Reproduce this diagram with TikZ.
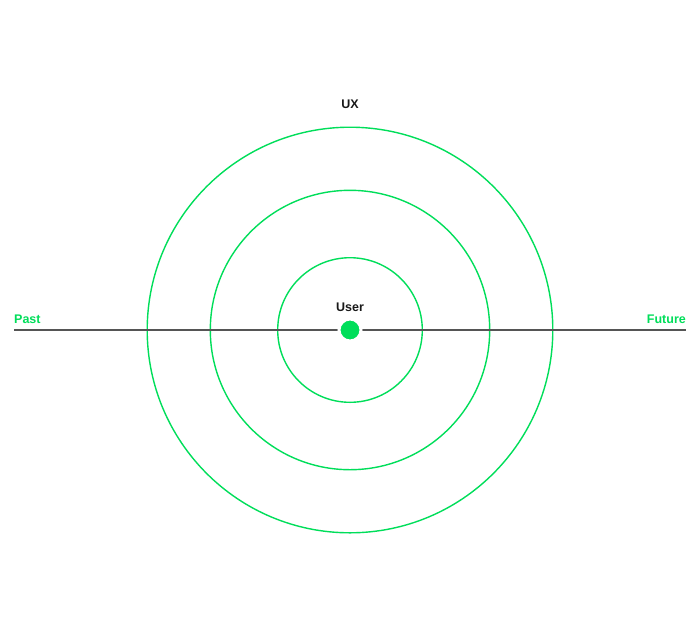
\documentclass[tikz,border=0pt]{standalone}
\usepackage{fontspec}
\setmainfont{Liberation Sans}
\definecolor{ringgreen}{RGB}{0,222,90}
\definecolor{axisgray}{RGB}{85,85,85}
\definecolor{labelblack}{RGB}{25,25,25}
\begin{document}
\begin{tikzpicture}[x=1pt,y=-1pt,
  ring/.style={draw=ringgreen,line width=1.4pt},
  axis/.style={draw=axisgray,line width=1.1pt},
  greenlabel/.style={text=ringgreen,font=\fontsize{12.5}{14}\selectfont\bfseries,inner sep=0pt},
  blacklabel/.style={text=labelblack,font=\fontsize{12.5}{14}\selectfont\bfseries,inner sep=0pt}]
\useasboundingbox (0,0) rectangle (700,630);
\fill[white] (0,0) rectangle (700,630);
\coordinate (c) at (350,330);
\draw[ring] (c) circle (72.3pt);
\draw[ring] (c) circle (139.7pt);
\draw[ring] (c) circle (202.8pt);
\coordinate (pastend) at (14,330);
\coordinate (futureend) at (686,330);
\draw[axis] (pastend) -- (futureend);
\node[circle,fill=ringgreen,draw=white,line width=3pt,minimum size=22pt,inner sep=0pt] (user) at (c) {};
\node[greenlabel,anchor=base west] (past) at (14,323) {Past};
\node[greenlabel,anchor=base east] (future) at (686,323) {Future};
\node[blacklabel,anchor=base] (userlabel) at (350,311) {User};
\node[blacklabel,anchor=base] (ux) at (350,108) {UX};
\end{tikzpicture}
\end{document}
